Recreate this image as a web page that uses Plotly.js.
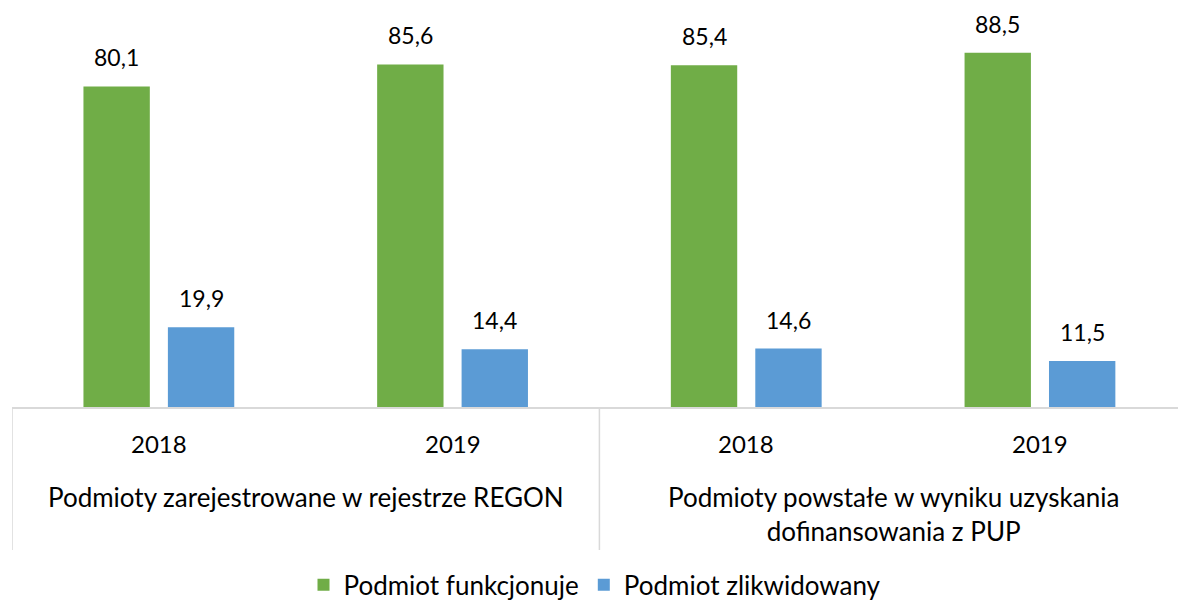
<!DOCTYPE html>
<html><head><meta charset="utf-8">
<script src="https://cdn.plot.ly/plotly-3.0.1.min.js"></script>
<style>body{margin:0;background:#fff}#c{width:1178px;height:600px}</style>
</head><body><div id="c"></div>
<script>
const groupNames = ["Podmioty zarejestrowane w rejestrze REGON",
  "Podmioty powstałe w wyniku uzyskania<br>dofinansowania z PUP"];
const groups = [groupNames[0], groupNames[0], groupNames[1], groupNames[1]];
const years = ["2018", "2019", "2018", "2019"];
const funkcjonuje = [80.1, 85.6, 85.4, 88.5];
const zlikwidowany = [19.9, 14.4, 14.6, 11.5];
const seriesNames = ["Podmiot funkcjonuje", "Podmiot zlikwidowany"];

const F = "Lato, 'Open Sans', sans-serif";
const BARGAP = 0.425, GROUPGAP = 0.214;
const slot = (1 - BARGAP) / 2;
const fmt = v => v.toFixed(1).replace('.', ',');

const traces = [
  {type:'bar', name:seriesNames[0], x:[groups, years], y:funkcjonuje,
   marker:{color:'#70ad47'}, hoverinfo:'y'},
  {type:'bar', name:seriesNames[1], x:[groups, years], y:zlikwidowany,
   marker:{color:'#5b9bd5'}, hoverinfo:'y'}
];

const ann = [];
const shapes = [];
years.forEach((yr, i) => {
  ann.push({xref:'x', yref:'paper', x:i, y:0, yshift:-36, text:yr, showarrow:false,
    yanchor:'middle', font:{size:24, family:F, color:'#000'}});
  ann.push({xref:'x', yref:'y', x:i - slot/2, y:funkcjonuje[i], yshift:29, text:fmt(funkcjonuje[i]),
    showarrow:false, yanchor:'middle', font:{size:23, family:F, color:'#000'}});
  ann.push({xref:'x', yref:'y', x:i + slot/2, y:zlikwidowany[i], yshift:29, text:fmt(zlikwidowany[i]),
    showarrow:false, yanchor:'middle', font:{size:23, family:F, color:'#000'}});
});
groupNames.forEach((g, j) => {
  ann.push({xref:'x', yref:'paper', x:2*j + 0.5, y:0, yshift:-72, text:g, showarrow:false,
    yanchor:'top', font:{size:26, family:F, color:'#000'}});
});
[-0.5, 1.5].forEach(xv => {
  shapes.push({type:'line', xref:'x', yref:'paper', x0:xv, x1:xv, y0:0, y1:-143/407,
    line:{color:'#d9d9d9', width:1.5}});
});

const layout = {
  width:1178, height:600,
  margin:{l:12, r:0, t:0, b:193, autoexpand:false},
  paper_bgcolor:'#fff', plot_bgcolor:'#fff',
  font:{family:F, size:22, color:'#000'},
  barmode:'group', bargap:BARGAP, bargroupgap:GROUPGAP,
  xaxis:{type:'multicategory', showline:true, linecolor:'#d9d9d9', linewidth:1.5,
    showdividers:false, showticklabels:false, ticks:'', range:[-0.5, 3.47]},
  yaxis:{range:[0,101.7], visible:false, showgrid:false, zeroline:false},
  annotations:ann, shapes:shapes,
  showlegend:true,
  legend:{orientation:'h', x:0.5, xanchor:'center', y:-0.437, yanchor:'middle',
    font:{size:26, family:F}, itemwidth:30, traceorder:'normal'}
};
Plotly.newPlot('c', traces, layout, {displayModeBar:false});
</script></body></html>
